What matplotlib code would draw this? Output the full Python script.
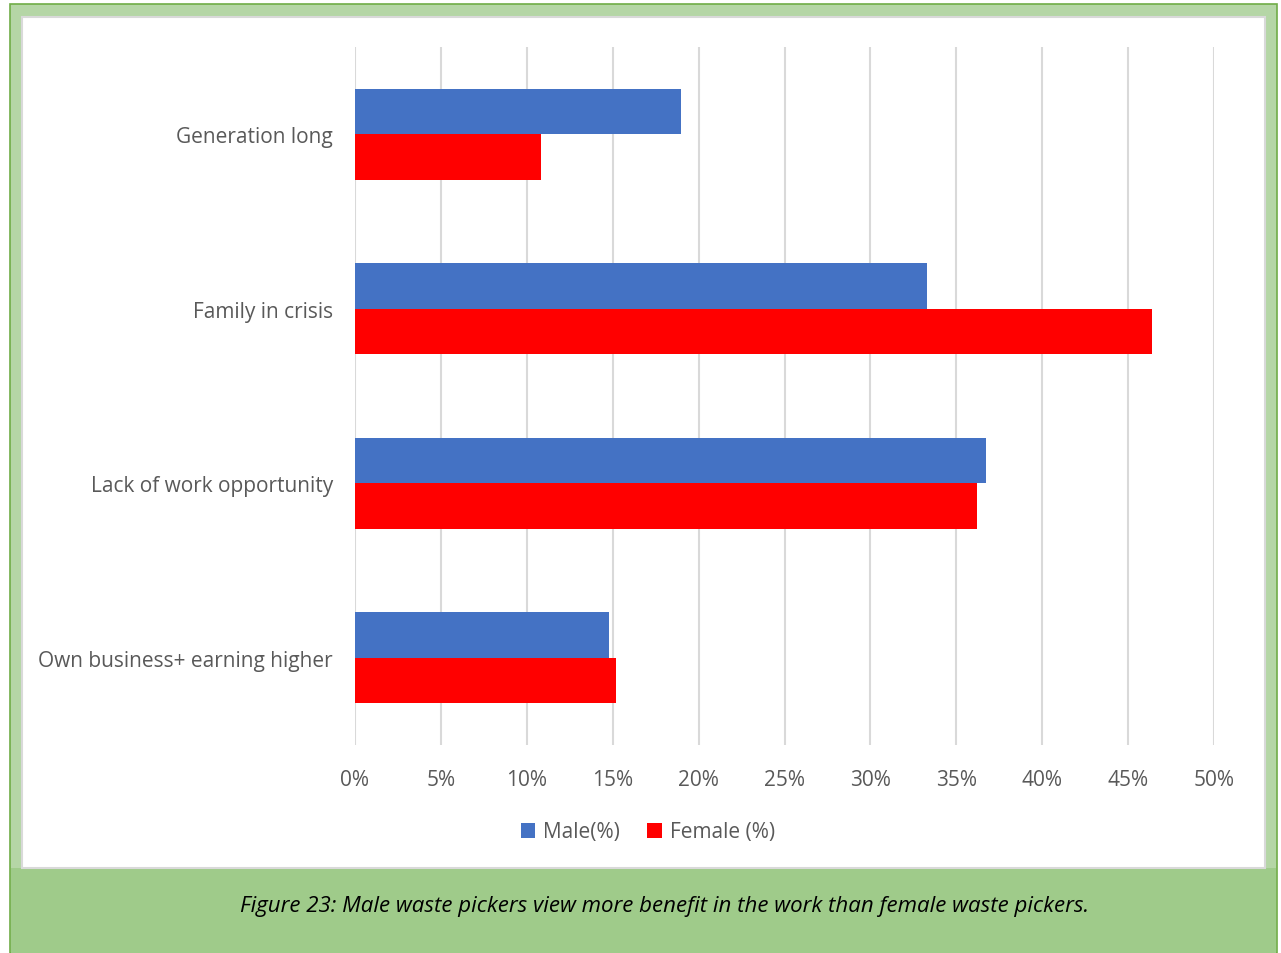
import numpy as np
import matplotlib.pyplot as plt
from matplotlib.patches import Rectangle

# data, top to bottom as shown in the chart
categories = ['Generation long', 'Family in crisis', 'Lack of work opportunity', 'Own business+ earning higher']
male = [19.0, 33.3, 36.7, 14.8]
female = [10.8, 46.4, 36.2, 15.2]
ticks = [0, 5, 10, 15, 20, 25, 30, 35, 40, 45, 50]

W, H = 1281, 954
fig = plt.figure(figsize=(W / 100, H / 100), dpi=100)
fig.patch.set_facecolor('white')

# green frame, white chart panel, caption strip (behind the axes)
fig.patches.append(Rectangle((10 / W, 0), 1267 / W, 949 / H, transform=fig.transFigure,
                             facecolor='#b5d6a6', edgecolor='#70ad47', lw=1.2, zorder=-10))
fig.patches.append(Rectangle((11 / W, 0), 1265 / W, (954 - 869) / H, transform=fig.transFigure,
                             facecolor='#9fcb8a', edgecolor='none', zorder=-9))
fig.patches.append(Rectangle((22 / W, (954 - 869) / H), 1243 / W, (869 - 18) / H, transform=fig.transFigure,
                             facecolor='white', edgecolor='#d9d9d9', lw=1.5, zorder=-8))

ax = fig.add_axes([355 / W, 1 - 746 / H, (1214 - 355) / W, (746 - 48) / H])
ax.set_facecolor('none')

y = np.arange(len(categories))
h = 0.262
ax.barh(y - h / 2, male, height=h, color='#4472c4', label='Male(%)', zorder=3)
ax.barh(y + h / 2, female, height=h, color='#ff0000', label='Female (%)', zorder=3)

ax.set_ylim(len(categories) - 0.5, -0.5)
ax.set_xlim(0, 50)
ax.set_xticks(ticks)
ax.set_xticklabels([f'{t}%' for t in ticks])
ax.set_yticks(y)
ax.set_yticklabels(categories)
ax.grid(axis='x', color='#d9d9d9', lw=1.5, zorder=0)
for s in ax.spines.values():
    s.set_visible(False)
ax.tick_params(axis='both', length=0, labelcolor='#595959', labelsize=15)
ax.tick_params(axis='x', pad=17)
ax.tick_params(axis='y', pad=16)
for lab in ax.get_xticklabels() + ax.get_yticklabels():
    lab.set_fontfamily('Open Sans')

leg = fig.legend(loc='center', bbox_to_anchor=(648 / W, 1 - 833 / H), ncol=2, frameon=False,
                 handlelength=0.7, handleheight=0.7, handletextpad=0.4, columnspacing=1.3,
                 prop={'family': 'Open Sans', 'size': 15})
for t in leg.get_texts():
    t.set_color('#595959')

fig.text(665 / W, 1 - 907 / H, 'Figure 23: Male waste pickers view more benefit in the work than female waste pickers.',
         ha='center', va='center', fontsize=16, style='italic', family='Open Sans', color='black')

fig.savefig('out.png', dpi=100)
